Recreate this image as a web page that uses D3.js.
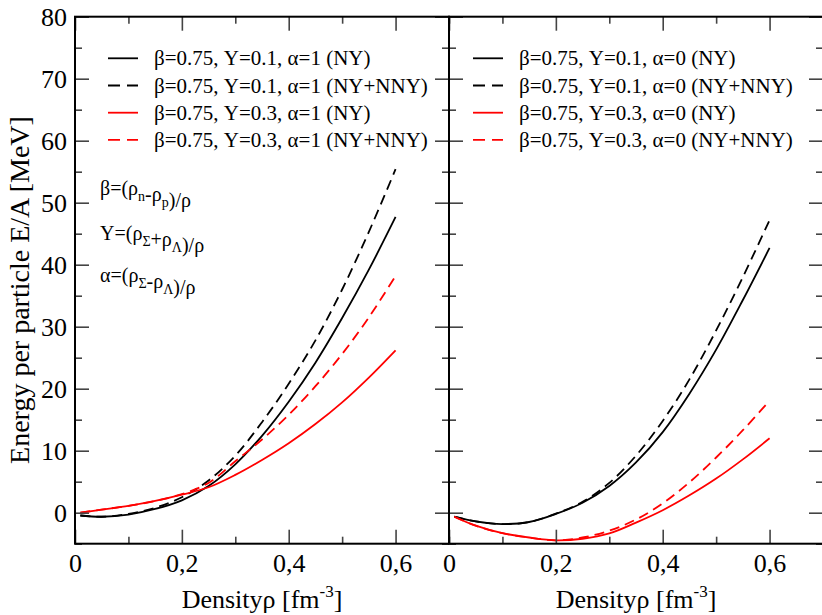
<!DOCTYPE html>
<html>
<head>
<meta charset="utf-8">
<script src="https://cdn.jsdelivr.net/npm/d3@7"></script>
<style>
  body { margin: 0; background: #fff; }
  svg text { font-family: "Liberation Serif", "DejaVu Serif", serif; fill: #000; }
</style>
</head>
<body>
<div id="chart"></div>
<script>
// density grid, fm^-3
const density = [0.01, 0.05, 0.10, 0.15, 0.20, 0.25, 0.30, 0.35, 0.40, 0.45, 0.50, 0.55, 0.60];

// left panel, alpha = 1
const a1Y01NY  = [-0.45, -0.65, -0.3, 0.6, 2.0, 4.3, 7.8, 12.4, 17.9, 24.2, 31.4, 39.2, 47.7];
const a1Y01NNY = [-0.45, -0.65, -0.2, 0.8, 2.5, 5.2, 9.2, 14.6, 20.8, 27.8, 36.0, 45.3, 55.4];
const a1Y03NY  = [0.0, 0.5, 1.1, 1.9, 2.9, 4.1, 6.1, 8.5, 11.2, 14.3, 17.8, 21.8, 26.2];
const a1Y03NNY = [0.0, 0.5, 1.1, 1.9, 3.0, 4.8, 8.3, 11.8, 15.8, 20.4, 25.6, 31.5, 38.2];

// right panel, alpha = 0
const a0Y01NY  = [-0.65, -1.4, -1.83, -1.5, -0.2, 1.6, 4.3, 8.1, 13.0, 19.2, 26.3, 34.3, 42.7];
const a0Y01NNY = [-0.65, -1.4, -1.83, -1.5, -0.15, 1.75, 4.8, 9.2, 14.8, 21.5, 29.4, 38.0, 47.2];
const a0Y03NY  = [-0.65, -2.1, -3.3, -4.0, -4.45, -4.2, -3.35, -1.6, 0.4, 2.8, 5.5, 8.6, 12.0];
const a0Y03NNY = [-0.65, -2.1, -3.3, -4.0, -4.45, -4.0, -2.9, -1.1, 1.5, 4.9, 8.9, 13.3, 18.07];

const legendLeft  = ['β=0.75, Y=0.1, α=1 (NY)', 'β=0.75, Y=0.1, α=1 (NY+NNY)', 'β=0.75, Y=0.3, α=1 (NY)', 'β=0.75, Y=0.3, α=1 (NY+NNY)'];
const legendRight = ['β=0.75, Y=0.1, α=0 (NY)', 'β=0.75, Y=0.1, α=0 (NY+NNY)', 'β=0.75, Y=0.3, α=0 (NY)', 'β=0.75, Y=0.3, α=0 (NY+NNY)'];

const xTicks = [0, 0.2, 0.4, 0.6];
const xMinor = [0.1, 0.3, 0.5, 0.7];
const yTicks = [0, 10, 20, 30, 40, 50, 60, 70, 80];
const yMinor = [-5, 5, 15, 25, 35, 45, 55, 65, 75];

const width = 822;
const height = 615;
const plotTop = 16.7, plotBottom = 543.7;
const serif = '"Liberation Serif", "DejaVu Serif", serif';

const svg = d3.select('#chart')
  .append('svg')
    .attr('width', width)
    .attr('height', height)
    .attr('font-family', serif);

const y = d3.scaleLinear().domain([-5, 80]).range([plotBottom, plotTop]);

const styles = [
  {color: '#000', dash: null},
  {color: '#000', dash: '10,6'},
  {color: '#ff0000', dash: null},
  {color: '#ff0000', dash: '10,6'}
];

const fmtX = d => d === 0 ? '0' : d3.format('.1f')(d).replace('.', ',');

function drawPanel(x0, x1, series, labels, legendX, showY) {
  const x = d3.scaleLinear().domain([0, 0.7]).range([x0, x1]);
  const g = svg.append('g');

  // curves
  const line = d3.line()
    .x((d, i) => x(density[i]))
    .y(d => y(d))
    .curve(d3.curveCatmullRom);

  g.selectAll('path.curve')
    .data(series)
    .join('path')
      .attr('class', 'curve')
      .attr('d', d => line(d))
      .attr('fill', 'none')
      .attr('stroke', (d, i) => styles[i].color)
      .attr('stroke-width', 1.8)
      .attr('stroke-dasharray', (d, i) => styles[i].dash);

  // ticks, all sides pointing in
  const tickStyle = sel => {
    sel.attr('font-family', serif);
    sel.select('.domain').remove();
    sel.selectAll('.tick line').attr('stroke', '#444').attr('stroke-width', 1.6);
  };

  g.append('g').attr('transform', `translate(0,${plotBottom})`)
    .call(d3.axisBottom(x).tickValues(xTicks).tickSizeInner(-14).tickSizeOuter(0).tickPadding(10).tickFormat(fmtX))
    .call(tickStyle)
    .selectAll('text').attr('font-size', 26).attr('fill', '#000');
  g.append('g').attr('transform', `translate(0,${plotBottom})`)
    .call(d3.axisBottom(x).tickValues(xMinor).tickSizeInner(-7).tickSizeOuter(0).tickFormat(''))
    .call(tickStyle);
  g.append('g').attr('transform', `translate(0,${plotTop})`)
    .call(d3.axisTop(x).tickValues(xTicks).tickSizeInner(-14).tickSizeOuter(0).tickFormat(''))
    .call(tickStyle);
  g.append('g').attr('transform', `translate(0,${plotTop})`)
    .call(d3.axisTop(x).tickValues(xMinor).tickSizeInner(-7).tickSizeOuter(0).tickFormat(''))
    .call(tickStyle);

  const leftAxis = g.append('g').attr('transform', `translate(${x0},0)`)
    .call(d3.axisLeft(y).tickValues(yTicks).tickSizeInner(-14).tickSizeOuter(0).tickPadding(8)
      .tickFormat(showY ? d3.format('d') : ''))
    .call(tickStyle);
  leftAxis.selectAll('text').attr('font-size', 26).attr('fill', '#000');
  g.append('g').attr('transform', `translate(${x0},0)`)
    .call(d3.axisLeft(y).tickValues(yMinor).tickSizeInner(-7).tickSizeOuter(0).tickFormat(''))
    .call(tickStyle);
  g.append('g').attr('transform', `translate(${x1},0)`)
    .call(d3.axisRight(y).tickValues(yTicks).tickSizeInner(-14).tickSizeOuter(0).tickFormat(''))
    .call(tickStyle);
  g.append('g').attr('transform', `translate(${x1},0)`)
    .call(d3.axisRight(y).tickValues(yMinor).tickSizeInner(-7).tickSizeOuter(0).tickFormat(''))
    .call(tickStyle);

  // frame
  g.append('rect')
    .attr('x', x0).attr('y', plotTop)
    .attr('width', x1 - x0).attr('height', plotBottom - plotTop)
    .attr('fill', 'none').attr('stroke', '#000').attr('stroke-width', 2);

  // legend
  const legend = g.selectAll('g.legend')
    .data(labels)
    .join('g')
      .attr('class', 'legend')
      .attr('transform', (d, i) => `translate(${legendX},${58.3 + i * 27.2})`);
  legend.append('line')
    .attr('x1', 0).attr('x2', 30)
    .attr('stroke', (d, i) => styles[i].color)
    .attr('stroke-width', 1.8)
    .attr('stroke-dasharray', (d, i) => styles[i].dash ? '12,7' : null);
  legend.append('text')
    .attr('x', 46).attr('y', 7)
    .attr('font-size', 21)
    .text(d => d);

  // x title
  const xt = g.append('text')
    .attr('x', (x0 + x1) / 2).attr('y', 608)
    .attr('text-anchor', 'middle')
    .attr('font-size', 26);
  xt.append('tspan').text('Densityρ [fm');
  xt.append('tspan').attr('font-size', 17).attr('dy', -11).text('-3');
  xt.append('tspan').attr('dy', 11).text(']');
}

drawPanel(75, 449, [a1Y01NY, a1Y01NNY, a1Y03NY, a1Y03NNY], legendLeft, 108, true);
drawPanel(449, 823, [a0Y01NY, a0Y01NNY, a0Y03NY, a0Y03NNY], legendRight, 473, false);

// y title
svg.append('text')
  .attr('transform', 'translate(29,290) rotate(-90)')
  .attr('text-anchor', 'middle')
  .attr('font-size', 28)
  .text('Energy per particle E/A [MeV]');

// definitions
function formula(yPos, parts) {
  const t = svg.append('text').attr('x', 100).attr('y', yPos).attr('font-size', 20);
  parts.forEach(p => {
    if (p.sub) {
      t.append('tspan').attr('font-size', 14).attr('dy', 6).text(p.sub);
      t.append('tspan').attr('dy', -6).text('');
    } else {
      t.append('tspan').text(p.t);
    }
  });
}
formula(195, [{t: 'β=(ρ'}, {sub: 'n'}, {t: '-ρ'}, {sub: 'p'}, {t: ')/ρ'}]);
formula(240, [{t: 'Y=(ρ'}, {sub: 'Σ'}, {t: '+ρ'}, {sub: 'Λ'}, {t: ')/ρ'}]);
formula(282, [{t: 'α=(ρ'}, {sub: 'Σ'}, {t: '-ρ'}, {sub: 'Λ'}, {t: ')/ρ'}]);
</script>
</body>
</html>
